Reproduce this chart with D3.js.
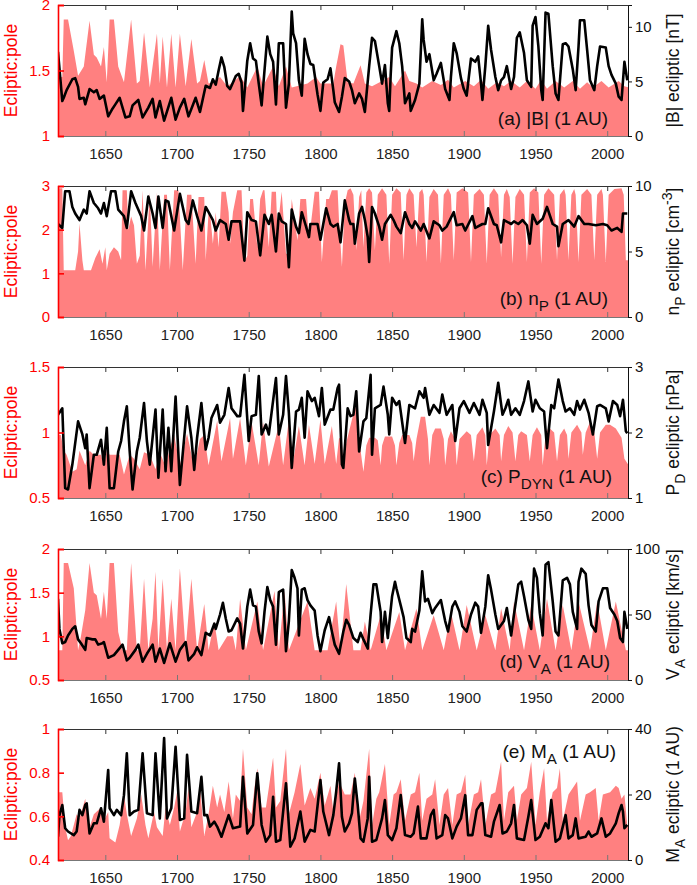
<!DOCTYPE html>
<html lang="en">
<head>
<meta charset="UTF-8">
<title>Ecliptic:pole ratios</title>
<script src="https://d3js.org/d3.v7.min.js"></script>
<style>
  body{margin:0;background:#fff;}
  svg text{font-family:"Liberation Sans",Arial,sans-serif;}
</style>
</head>
<body>
<svg id="chart" width="697" height="885"></svg>
<script>
// year ticks shared by all panels
const yearTicks = [1650, 1700, 1750, 1800, 1850, 1900, 1950, 2000];

// (a) |B| ecliptic [nT]  and  ecliptic:pole ratio
const bEcl = [[1617,7.7],[1620,3.2],[1621,3.5],[1623,4.2],[1627,5.2],[1629,5.3],[1631,4.5],[1632,3.4],[1635,3.5],[1636,2.9],[1639,4.3],[1642,4.0],[1644,4.2],[1646,3.4],[1649,3.7],[1652,1.8],[1655,2.5],[1657,2.9],[1660,3.5],[1664,1.7],[1667,1.8],[1669,2.8],[1673,3.3],[1676,1.7],[1680,2.6],[1683,3.4],[1685,1.7],[1688,3.2],[1691,1.4],[1696,3.5],[1699,1.5],[1702,2.6],[1705,3.4],[1708,1.8],[1713,3.5],[1716,2.2],[1720,4.6],[1723,4.4],[1725,5.2],[1727,4.7],[1729,6.0],[1731,7.2],[1733,6.3],[1735,4.6],[1737,4.3],[1741,5.5],[1743,5.7],[1745,4.9],[1746,2.3],[1749,6.9],[1751,8.5],[1753,7.1],[1755,6.9],[1757,4.8],[1759,2.8],[1761,6.0],[1763,9.1],[1765,7.5],[1767,6.8],[1769,2.9],[1771,8.5],[1774,8.5],[1776,2.6],[1778,4.8],[1780,11.4],[1781,9.4],[1783,8.5],[1785,5.1],[1787,3.7],[1789,8.9],[1791,7.5],[1793,6.6],[1795,6.5],[1798,3.8],[1800,2.3],[1802,4.9],[1805,5.2],[1807,6.2],[1809,4.2],[1810,3.1],[1813,2.2],[1815,3.6],[1817,5.3],[1820,5.0],[1822,4.2],[1824,3.0],[1827,3.9],[1829,3.4],[1831,2.2],[1834,6.4],[1836,9.0],[1838,8.7],[1841,6.4],[1843,4.8],[1845,6.5],[1847,3.0],[1848,2.3],[1849,5.6],[1850,8.1],[1853,9.6],[1855,8.5],[1857,6.4],[1859,3.0],[1862,3.9],[1863,2.3],[1866,3.3],[1869,4.8],[1871,10.7],[1872,8.8],[1874,6.8],[1876,7.5],[1879,5.1],[1881,5.7],[1884,6.7],[1887,4.3],[1890,3.3],[1891,5.4],[1893,8.5],[1895,7.6],[1898,5.3],[1900,4.3],[1902,3.7],[1905,7.1],[1908,6.8],[1910,7.3],[1912,4.8],[1913,3.3],[1915,6.4],[1917,10.1],[1919,7.9],[1922,5.4],[1924,4.2],[1926,5.1],[1928,5.4],[1930,6.4],[1933,4.3],[1935,5.4],[1937,9.0],[1939,9.5],[1942,7.6],[1944,5.1],[1947,4.5],[1948,10.1],[1950,10.9],[1952,8.2],[1954,4.2],[1955,3.3],[1957,11.3],[1959,11.2],[1962,6.4],[1964,3.9],[1966,3.3],[1969,8.4],[1971,8.5],[1973,8.2],[1976,6.1],[1978,4.2],[1980,8.2],[1981,10.6],[1984,10.6],[1986,7.9],[1988,5.1],[1991,4.2],[1993,6.4],[1995,8.2],[1999,8.1],[2001,6.4],[2003,5.6],[2006,4.8],[2008,3.6],[2010,3.3],[2012,6.8],[2014,5.1]];
const bRatio = [[1617,1.45],[1620,1.45],[1621,1.89],[1624,1.89],[1628,1.65],[1631,1.46],[1635,1.53],[1639,1.88],[1642,1.62],[1644,1.60],[1647,1.53],[1649,1.68],[1651,1.41],[1653,1.89],[1656,1.89],[1659,1.53],[1663,1.41],[1668,1.89],[1672,1.40],[1674,1.42],[1677,1.79],[1681,1.37],[1686,1.78],[1688,1.40],[1690,1.76],[1693,1.37],[1696,1.78],[1699,1.37],[1702,1.78],[1706,1.38],[1710,1.74],[1714,1.40],[1716,1.42],[1719,1.58],[1722,1.40],[1726,1.42],[1730,1.45],[1735,1.38],[1740,1.42],[1744,1.46],[1749,1.37],[1756,1.53],[1760,1.38],[1767,1.53],[1771,1.38],[1776,1.53],[1780,1.37],[1791,1.40],[1797,1.45],[1800,1.40],[1809,1.40],[1811,1.53],[1814,1.70],[1816,1.69],[1819,1.41],[1823,1.40],[1828,1.54],[1831,1.40],[1836,1.38],[1843,1.42],[1848,1.45],[1852,1.38],[1859,1.50],[1862,1.42],[1867,1.40],[1871,1.37],[1878,1.42],[1884,1.39],[1889,1.43],[1893,1.37],[1901,1.42],[1907,1.38],[1912,1.43],[1917,1.36],[1923,1.41],[1928,1.38],[1933,1.42],[1939,1.37],[1944,1.42],[1950,1.36],[1954,1.43],[1958,1.36],[1964,1.42],[1970,1.37],[1976,1.42],[1981,1.36],[1986,1.41],[1990,1.37],[1996,1.42],[2001,1.37],[2008,1.42],[2012,1.38],[2015,1.37]];

// (b) n_P ecliptic [cm^-3]
const nEcl = [[1617,7.1],[1620,6.8],[1622,9.6],[1625,9.6],[1627,8.4],[1629,7.9],[1632,7.4],[1635,8.2],[1637,7.9],[1639,9.6],[1642,8.7],[1645,8.3],[1647,7.9],[1649,8.7],[1651,7.7],[1654,9.6],[1657,9.6],[1659,8.2],[1663,7.7],[1665,6.8],[1668,9.6],[1671,8.7],[1675,7.7],[1677,6.6],[1680,9.2],[1683,7.9],[1685,6.8],[1687,9.2],[1690,6.8],[1692,8.9],[1694,8.8],[1698,6.6],[1702,9.4],[1706,7.4],[1708,7.1],[1711,8.9],[1714,7.7],[1717,6.6],[1720,8.4],[1722,8.0],[1725,7.4],[1727,6.6],[1730,7.4],[1734,7.1],[1736,5.9],[1738,7.3],[1744,7.3],[1747,4.3],[1749,8.0],[1752,7.4],[1755,7.3],[1758,4.7],[1761,7.8],[1764,7.1],[1766,7.8],[1769,5.0],[1771,7.9],[1773,7.3],[1776,7.1],[1778,3.8],[1780,8.2],[1783,6.9],[1785,6.4],[1787,8.0],[1790,6.9],[1792,6.1],[1793,7.1],[1798,7.1],[1800,5.9],[1804,8.3],[1807,7.1],[1809,6.9],[1812,7.1],[1814,5.7],[1817,8.9],[1820,7.4],[1821,7.1],[1823,7.1],[1824,5.6],[1827,7.9],[1829,8.4],[1831,7.4],[1833,6.1],[1834,4.2],[1836,8.4],[1838,7.9],[1841,6.9],[1843,5.9],[1845,7.1],[1849,7.8],[1851,7.4],[1853,6.9],[1856,6.4],[1859,8.0],[1862,7.1],[1864,6.8],[1866,7.3],[1870,6.6],[1872,7.1],[1876,6.0],[1879,7.3],[1883,7.0],[1885,6.6],[1888,6.9],[1893,8.0],[1895,7.0],[1899,7.1],[1901,6.6],[1906,7.7],[1908,6.8],[1913,7.1],[1915,7.1],[1917,8.3],[1921,7.1],[1923,7.0],[1926,5.7],[1928,7.4],[1933,7.1],[1935,7.3],[1938,7.1],[1941,7.4],[1944,7.0],[1946,5.6],[1948,7.8],[1951,7.1],[1955,7.5],[1958,8.4],[1962,7.1],[1965,6.9],[1966,5.4],[1969,7.1],[1973,7.4],[1977,6.9],[1980,7.7],[1984,7.1],[1987,7.1],[1992,7.0],[1997,7.1],[2000,7.0],[2003,6.6],[2007,6.8],[2010,6.5],[2011,7.9],[2014,7.9]];
const nRatio = [[1617,2.95],[1620,2.95],[1621,1.07],[1629,1.07],[1631,1.5],[1632,2.14],[1634,1.3],[1635,1.07],[1640,1.07],[1643,1.35],[1646,1.55],[1648,1.22],[1650,1.6],[1651,1.07],[1653,1.45],[1656,1.6],[1659,1.5],[1661,1.3],[1662,2.9],[1665,2.9],[1666,2.0],[1668,2.3],[1670,2.1],[1672,1.22],[1674,1.4],[1676,2.9],[1678,1.07],[1681,2.85],[1683,1.15],[1686,2.85],[1688,1.07],[1691,2.8],[1693,2.8],[1695,1.07],[1698,2.9],[1701,2.9],[1704,1.07],[1707,2.8],[1710,2.8],[1713,1.22],[1715,2.75],[1719,2.75],[1720,1.3],[1722,2.4],[1723,2.4],[1725,1.68],[1727,2.4],[1729,1.6],[1731,2.87],[1734,2.87],[1736,2.4],[1737,1.68],[1739,2.4],[1742,2.9],[1745,2.9],[1747,1.26],[1749,1.4],[1751,2.7],[1753,2.7],[1756,1.6],[1758,2.7],[1760,2.9],[1761,2.9],[1764,1.6],[1766,2.87],[1769,2.87],[1770,2.0],[1773,2.87],[1776,1.45],[1778,1.45],[1780,2.7],[1784,1.75],[1786,2.7],[1790,2.7],[1792,1.75],[1796,2.87],[1799,2.87],[1801,1.26],[1804,2.7],[1806,2.7],[1808,2.9],[1812,2.9],[1813,2.2],[1815,1.15],[1817,2.6],[1819,2.9],[1821,2.95],[1823,2.8],[1825,1.53],[1827,2.75],[1828.5,2.9],[1830,1.6],[1832,2.85],[1834,2.95],[1836,2.85],[1838,1.53],[1840,2.8],[1843,2.95],[1846,2.8],[1848,1.22],[1850,2.8],[1853,2.95],[1856,2.85],[1858,1.3],[1860,2.8],[1862,2.95],[1865,2.8],[1867,1.6],[1869,2.85],[1871,2.93],[1872,2.8],[1874,1.26],[1876,2.75],[1879,2.93],[1882,2.8],[1884,1.22],[1886,2.8],[1889,2.95],[1891,2.8],[1893,1.3],[1895,2.85],[1899,2.95],[1903,2.85],[1905,1.26],[1907,2.8],[1911,2.93],[1914,2.8],[1916,1.22],[1918,2.8],[1921,2.95],[1924,2.8],[1926,1.37],[1928,2.8],[1930,2.93],[1932,2.75],[1934,1.22],[1936,2.75],[1939,2.93],[1942,2.8],[1944,1.26],[1946,2.85],[1949,2.95],[1952,2.85],[1954,1.22],[1956,2.8],[1959,2.95],[1963,2.8],[1965,1.3],[1967,2.8],[1970,2.93],[1971,2.8],[1973,1.3],[1975,2.8],[1977,2.93],[1978,2.8],[1980,1.26],[1982,2.8],[1986,2.93],[1989,2.8],[1991,1.3],[1993,2.8],[1996,2.93],[1997,2.8],[1999,1.26],[2001,2.8],[2005,2.93],[2010,2.95],[2011.5,2.8],[2013,1.3],[2015,1.3]];

// (c) P_D ecliptic [nPa]
const pEcl = [[1617,2.27],[1620,2.37],[1622,1.15],[1624,1.13],[1627,1.51],[1631,2.17],[1634,1.97],[1636,1.76],[1637,1.97],[1639,1.15],[1642,1.66],[1644,1.66],[1647,1.89],[1649,1.51],[1651,2.07],[1653,1.15],[1656,1.15],[1659,1.71],[1661,1.87],[1663,2.17],[1665,2.40],[1667,1.71],[1669,1.13],[1672,1.71],[1674,1.92],[1677,2.45],[1679,1.87],[1681,1.51],[1685,2.35],[1687,1.31],[1690,2.35],[1692,1.41],[1694,2.07],[1696,1.41],[1699,2.55],[1702,1.20],[1705,1.92],[1707,2.40],[1710,1.92],[1712,1.43],[1714,1.92],[1717,2.45],[1720,1.74],[1722,1.92],[1724,2.22],[1728,2.42],[1730,2.15],[1733,2.27],[1736,2.68],[1738,2.37],[1742,2.25],[1744,2.25],[1747,2.88],[1750,1.87],[1752,2.25],[1755,2.27],[1757,2.86],[1759,1.97],[1762,2.12],[1764,1.97],[1769,2.83],[1771,1.97],[1774,2.27],[1776,2.86],[1778,2.30],[1780,1.46],[1783,2.32],[1785,2.35],[1787,2.53],[1789,1.92],[1791,2.63],[1794,2.48],[1796,2.53],[1799,2.25],[1801,2.68],[1803,2.12],[1807,2.35],[1809,2.35],[1812,2.68],[1813,2.73],[1815,1.51],[1816,1.46],[1819,2.37],[1821,2.25],[1823,2.27],[1825,2.63],[1827,1.71],[1830,2.17],[1832,2.22],[1835,2.88],[1836,1.66],[1838,2.37],[1842,2.42],[1844,2.70],[1847,2.27],[1848,1.97],[1850,2.53],[1853,2.42],[1855,2.48],[1859,1.84],[1862,2.42],[1866,2.37],[1869,2.63],[1872,2.53],[1873,2.68],[1876,2.27],[1879,2.42],[1883,2.30],[1885,2.58],[1888,2.27],[1892,2.42],[1894,1.87],[1897,2.37],[1900,2.48],[1904,2.30],[1907,2.45],[1911,2.27],[1913,2.50],[1916,2.30],[1917,1.81],[1921,2.32],[1924,2.76],[1927,2.27],[1929,2.37],[1931,2.50],[1933,2.27],[1936,2.37],[1939,2.27],[1942,2.48],[1945,2.78],[1948,2.32],[1950,2.50],[1953,2.37],[1956,2.32],[1958,1.76],[1961,2.42],[1963,2.37],[1966,2.81],[1969,2.48],[1971,2.32],[1974,2.37],[1977,2.27],[1979,2.48],[1981,2.35],[1984,2.50],[1987,2.30],[1990,1.97],[1993,2.40],[1995,2.42],[1999,2.37],[2001,2.17],[2004,2.48],[2007,2.42],[2009,2.25],[2011,2.50],[2013,2.02],[2014,1.99]];
const pRatio = [[1617,0.98],[1619,0.98],[1621,0.86],[1623,0.83],[1627,0.70],[1630,0.72],[1632,0.86],[1636,0.75],[1639,0.86],[1642,0.83],[1647,0.83],[1649,0.75],[1651,0.86],[1653,0.83],[1660,0.83],[1663,0.68],[1667,0.83],[1670,0.80],[1674,0.72],[1677,0.85],[1681,0.83],[1685,0.72],[1688,0.85],[1692,0.74],[1695,0.88],[1698,0.98],[1702,0.75],[1707,0.99],[1712,0.73],[1716,0.95],[1719,0.98],[1722,0.75],[1728,1.09],[1731,0.78],[1737,1.11],[1739,0.80],[1744,1.11],[1748,0.75],[1752,1.08],[1757,0.75],[1760,1.08],[1764,0.74],[1771,1.06],[1774,0.75],[1778,1.10],[1781,0.78],[1785,1.05],[1789,0.75],[1792,1.06],[1796,0.76],[1800,1.10],[1803,0.76],[1808,1.05],[1811,0.76],[1813,0.96],[1815,0.94],[1816,0.75],[1818,0.92],[1822,1.10],[1825,1.21],[1827,0.95],[1829,0.78],[1830,0.70],[1832,0.90],[1834,0.96],[1838,0.96],[1840,0.94],[1842,0.75],[1843,0.90],[1845,0.97],[1850,0.97],[1852,0.90],[1853,0.75],[1855,0.92],[1857,0.98],[1862,0.98],[1864,0.92],[1865,0.78],[1867,0.95],[1870,1.12],[1873,1.12],[1875,0.95],[1876,0.75],[1878,0.98],[1880,1.03],[1884,1.03],[1886,0.95],[1887,0.75],[1889,0.95],[1891,1.01],[1894,0.95],[1895,0.75],[1897,0.95],[1902,1.01],[1905,0.98],[1907,0.78],[1909,0.98],[1913,1.04],[1915,0.98],[1916,0.75],[1918,0.98],[1922,1.03],[1925,0.98],[1926,0.78],[1928,0.98],[1931,1.05],[1934,1.00],[1936,0.78],[1938,0.98],[1940,1.01],[1944,0.98],[1946,0.78],[1948,0.98],[1951,1.04],[1954,0.98],[1955,0.75],[1957,0.98],[1959,1.04],[1963,1.00],[1965,0.78],[1967,0.98],[1970,1.03],[1972,0.98],[1973,0.80],[1975,1.00],[1979,1.06],[1982,1.00],[1983,0.83],[1985,1.00],[1988,1.08],[1991,1.00],[1993,0.80],[1995,1.00],[1999,1.06],[2002,1.06],[2006,1.03],[2010,0.96],[2012,0.80],[2015,0.75]];

// (d) V_A ecliptic [km/s]
const vEcl = [[1617,62],[1618,39],[1620,28],[1622,29],[1624,34],[1627,39],[1629,41],[1631,31],[1633,28],[1636,23],[1637,32],[1641,31],[1643,31],[1645,27],[1648,28],[1649,29],[1652,17],[1656,19],[1659,23],[1662,27],[1665,15],[1667,17],[1671,23],[1673,27],[1676,14],[1679,20],[1683,27],[1685,14],[1688,24],[1691,13],[1695,28],[1699,14],[1702,23],[1706,29],[1708,15],[1712,20],[1714,25],[1717,19],[1720,36],[1723,34],[1726,43],[1727,39],[1730,50],[1732,59],[1734,47],[1736,37],[1738,38],[1742,47],[1744,43],[1746,24],[1749,56],[1751,69],[1753,57],[1755,56],[1757,37],[1759,28],[1761,52],[1763,71],[1765,61],[1767,56],[1769,27],[1771,67],[1774,69],[1776,22],[1778,45],[1780,84],[1782,78],[1784,70],[1785,34],[1787,69],[1789,70],[1791,61],[1793,57],[1796,53],[1798,34],[1800,22],[1803,38],[1806,48],[1808,37],[1810,27],[1813,20],[1816,37],[1818,46],[1820,42],[1823,32],[1826,29],[1828,36],[1830,31],[1833,24],[1835,50],[1837,73],[1839,73],[1842,52],[1843,29],[1845,52],[1847,32],[1848,43],[1850,64],[1852,75],[1853,70],[1856,57],[1858,48],[1860,32],[1863,29],[1864,39],[1866,37],[1869,53],[1871,83],[1873,60],[1875,62],[1878,51],[1880,55],[1884,61],[1887,45],[1889,37],[1892,56],[1894,60],[1897,52],[1899,41],[1902,37],[1905,50],[1908,59],[1910,56],[1912,36],[1915,56],[1917,80],[1919,69],[1922,50],[1924,39],[1928,45],[1930,55],[1933,34],[1935,50],[1938,73],[1940,75],[1942,64],[1945,46],[1947,39],[1949,85],[1951,78],[1953,51],[1955,34],[1957,88],[1959,90],[1962,60],[1964,37],[1966,34],[1969,76],[1972,78],[1974,73],[1976,52],[1979,39],[1980,75],[1982,85],[1985,81],[1987,57],[1989,42],[1992,37],[1994,60],[1997,70],[2000,70],[2002,55],[2005,50],[2007,45],[2009,32],[2011,29],[2012,52],[2014,39]];
const vRatio = [[1617,0.84],[1620,0.84],[1621,1.84],[1624,1.84],[1628,1.55],[1631,0.84],[1633,1.0],[1636,1.3],[1639,1.84],[1642,1.5],[1644,1.47],[1647,1.2],[1649,1.51],[1651,1.2],[1653,1.84],[1656,1.84],[1659,1.05],[1662,0.84],[1665,0.84],[1668,1.84],[1672,0.84],[1674,0.84],[1677,1.66],[1680,0.84],[1683,1.2],[1685,1.74],[1687,0.84],[1690,1.66],[1693,0.84],[1696,1.43],[1699,0.84],[1702,1.78],[1706,0.84],[1710,1.66],[1714,0.84],[1719,1.37],[1722,0.84],[1726,1.17],[1729,0.84],[1735,1.0],[1739,1.0],[1741,0.84],[1744,1.43],[1748,0.84],[1756,1.4],[1760,0.84],[1768,1.52],[1771,0.84],[1775,1.52],[1778,0.84],[1791,1.4],[1796,0.84],[1805,0.84],[1811,1.4],[1814,0.84],[1818,1.6],[1823,0.84],[1828,0.84],[1831,1.17],[1835,0.84],[1842,1.24],[1846,0.84],[1855,1.28],[1859,0.84],[1867,1.32],[1871,0.84],[1879,1.24],[1886,0.84],[1891,1.28],[1897,0.84],[1902,1.36],[1909,0.84],[1915,1.24],[1922,0.84],[1926,1.32],[1932,0.84],[1935,1.4],[1942,0.84],[1947,1.36],[1953,0.84],[1958,1.43],[1964,0.84],[1969,1.36],[1975,0.84],[1980,1.4],[1988,0.84],[1993,1.4],[1999,0.84],[2006,1.4],[2013,0.84],[2015,0.84]];

// (e) M_A ecliptic
const mEcl = [[1617,7.1],[1618,13.7],[1620,16.8],[1622,9.7],[1624,8.7],[1628,7.6],[1630,8.7],[1632,15.3],[1634,13.7],[1636,16.8],[1637,17.3],[1639,8.1],[1642,11.2],[1644,11.2],[1647,15.8],[1649,11.7],[1652,27.5],[1653,15.8],[1656,13.7],[1658,15.3],[1661,13.7],[1663,19.8],[1665,32.6],[1667,13.7],[1670,14.8],[1673,15.3],[1676,32.6],[1679,14.3],[1683,13.7],[1685,32.6],[1688,12.7],[1691,37.2],[1693,12.7],[1696,15.8],[1699,34.6],[1702,12.2],[1705,12.7],[1707,32.1],[1710,14.8],[1714,14.3],[1717,25.4],[1719,13.7],[1721,13.7],[1723,10.2],[1726,11.7],[1728,10.2],[1731,7.1],[1736,13.7],[1739,9.7],[1744,10.2],[1746,25.4],[1749,8.1],[1753,10.7],[1756,26.5],[1759,10.7],[1762,5.6],[1765,7.6],[1767,19.3],[1769,5.6],[1772,6.1],[1776,23.4],[1779,4.1],[1782,6.6],[1786,14.8],[1789,5.6],[1793,9.2],[1796,8.7],[1800,24.4],[1802,14.8],[1806,7.6],[1809,13.7],[1811,20.9],[1813,29.5],[1815,13.2],[1817,8.7],[1820,11.2],[1822,14.3],[1824,24.9],[1826,16.8],[1828,6.6],[1830,5.6],[1833,12.7],[1834,25.4],[1836,5.6],[1839,6.1],[1843,12.7],[1845,18.3],[1847,7.6],[1850,6.1],[1853,9.7],[1856,19.8],[1859,7.6],[1863,7.1],[1865,8.1],[1868,16.3],[1870,6.6],[1874,6.6],[1877,13.7],[1879,15.3],[1881,6.6],[1885,7.6],[1887,13.7],[1889,12.7],[1892,6.6],[1895,10.2],[1898,12.7],[1901,19.8],[1903,7.6],[1906,7.6],[1909,15.3],[1912,17.3],[1913,17.3],[1915,7.6],[1919,7.1],[1921,11.7],[1925,16.8],[1927,8.1],[1930,8.7],[1933,11.2],[1935,16.8],[1937,6.6],[1942,6.1],[1945,13.2],[1947,18.3],[1950,6.1],[1953,7.1],[1957,11.2],[1959,9.7],[1961,18.3],[1964,5.6],[1967,6.6],[1971,13.7],[1973,6.6],[1976,7.6],[1978,12.7],[1980,6.6],[1985,7.1],[1987,8.7],[1989,7.1],[1993,8.1],[1996,12.7],[1999,7.1],[2002,8.1],[2006,11.2],[2008,14.3],[2010,16.8],[2011,14.8],[2012,9.7],[2014,10.7]];
const mRatio = [[1617,0.71],[1620,0.71],[1622,0.55],[1624,0.49],[1626,0.51],[1630,0.61],[1632,0.59],[1636,0.68],[1637,0.62],[1639,0.55],[1642,0.61],[1647,0.64],[1649,0.58],[1652,0.62],[1653,0.50],[1657,0.48],[1660,0.56],[1663,0.70],[1665,0.61],[1668,0.51],[1672,0.59],[1675,0.70],[1678,0.56],[1680,0.50],[1684,0.62],[1686,0.55],[1690,0.51],[1692,0.64],[1695,0.56],[1698,0.64],[1700,0.71],[1702,0.53],[1706,0.62],[1708,0.73],[1710,0.55],[1714,0.62],[1716,0.73],[1719,0.51],[1722,0.61],[1725,0.74],[1728,0.64],[1730,0.70],[1733,0.62],[1736,0.76],[1739,0.59],[1741,0.70],[1744,0.67],[1746,0.91],[1749,0.64],[1752,0.61],[1754,0.73],[1756,0.82],[1759,0.64],[1762,0.64],[1764,0.73],[1767,0.87],[1769,0.64],[1772,0.67],[1776,0.91],[1778,0.61],[1782,0.71],[1786,0.84],[1789,0.65],[1793,0.73],[1796,0.68],[1800,0.80],[1803,0.65],[1807,0.74],[1809,0.62],[1813,0.76],[1817,0.70],[1821,0.70],[1824,0.80],[1827,0.58],[1830,0.67],[1834,0.91],[1836,0.56],[1839,0.68],[1841,0.71],[1845,0.84],[1848,0.56],[1851,0.70],[1853,0.71],[1856,0.77],[1859,0.58],[1863,0.70],[1866,0.71],[1869,0.80],[1871,0.58],[1874,0.68],[1878,0.70],[1880,0.77],[1883,0.56],[1886,0.70],[1889,0.73],[1892,0.56],[1895,0.70],[1898,0.71],[1901,0.79],[1903,0.56],[1907,0.70],[1910,0.71],[1912,0.77],[1915,0.56],[1919,0.70],[1922,0.71],[1926,0.85],[1928,0.58],[1931,0.71],[1935,0.74],[1937,0.58],[1940,0.70],[1944,0.73],[1947,0.85],[1950,0.56],[1953,0.71],[1956,0.82],[1958,0.58],[1962,0.71],[1965,0.73],[1967,0.82],[1969,0.58],[1973,0.70],[1976,0.73],[1979,0.76],[1981,0.58],[1985,0.70],[1988,0.71],[1992,0.73],[1994,0.58],[1997,0.70],[2002,0.71],[2006,0.74],[2008,0.73],[2010,0.68],[2012,0.70],[2014,0.56],[2015,0.56]];

// axis ranges / tick values per panel
const leftDomains  = [[1,2],[0,3],[0.5,1.5],[0.5,2],[0.4,1]];
const leftTicks    = [[1,1.5,2],[0,1,2,3],[0.5,1,1.5],[0.5,1,1.5,2],[0.4,0.6,0.8,1]];
const rightDomains = [[0,12],[0,10],[1,3],[0,100],[0,40]];
const rightTicks   = [[0,5,10],[0,5,10],[1,2,3],[0,50,100],[0,20,40]];

// text pieces: [text, shift]  shift 1 = subscript, -1 = superscript
const panelLabels = [
  [["(a) |B| (1 AU)",0]],
  [["(b) n",0],["P",1],[" (1 AU)",0]],
  [["(c) P",0],["DYN",1],[" (1 AU)",0]],
  [["(d) V",0],["A",1],[" (1 AU)",0]],
  [["(e) M",0],["A",1],[" (1 AU)",0]]
];
const rightLabels = [
  [["|B| ecliptic [nT]",0]],
  [["n",0],["P",1],[" ecliptic [cm",0],["-3",-1],["]",0]],
  [["P",0],["D",1],[" ecliptic [nPa]",0]],
  [["V",0],["A",1],[" ecliptic [km/s]",0]],
  [["M",0],["A",1],[" ecliptic (1 AU)",0]]
];

const series = [
  {ecl: bEcl, ratio: bRatio},
  {ecl: nEcl, ratio: nRatio},
  {ecl: pEcl, ratio: pRatio},
  {ecl: vEcl, ratio: vRatio},
  {ecl: mEcl, ratio: mRatio}
];

// layout
const tops = [5, 186, 367, 549, 729];
const ph = 131;
const left = 58, right = 628;
const labelPos = [{x:608,dy:120},{x:608,dy:119},{x:612,dy:116},{x:610,dy:119},{x:616,dy:29}];
const RED = "#ff0000", FILL = "#ff8080";

const svg = d3.select("#chart");
const x = d3.scaleLinear().domain([1617, 2014.5]).range([left, right]);

// writes text pieces as tspans, shifting sub/superscripts and restoring the baseline after
function addRich(sel, parts, size) {
  let pending = 0;
  parts.forEach(([t, s]) => {
    const sh = s === 1 ? 0.33 * size : (s === -1 ? -0.42 * size : 0);
    const sp = sel.append("tspan").text(t);
    const dy = sh - pending;
    if (dy !== 0) sp.attr("dy", dy);
    if (s !== 0) sp.style("font-size", (size * 0.8) + "px");
    pending = sh;
  });
}

series.forEach((s, i) => {
  const top = tops[i], bottom = top + ph;
  const yL = d3.scaleLinear().domain(leftDomains[i]).range([bottom, top]);
  const yR = d3.scaleLinear().domain(rightDomains[i]).range([bottom, top]);
  const g = svg.append("g");

  g.append("clipPath").attr("id", "clip" + i)
    .append("rect").attr("x", left).attr("y", top).attr("width", right - left).attr("height", ph);

  const plot = g.append("g").attr("clip-path", "url(#clip" + i + ")");
  plot.append("path")
    .datum(s.ratio)
    .attr("fill", FILL)
    .attr("d", d3.area().x(d => x(d[0])).y0(bottom).y1(d => yL(d[1])));
  plot.append("path")
    .datum(s.ecl)
    .attr("fill", "none")
    .attr("stroke", "#000")
    .attr("stroke-width", 2.6)
    .attr("stroke-linejoin", "round")
    .attr("d", d3.line().x(d => x(d[0])).y(d => yR(d[1])));

  // top & bottom axes (ticks inward)
  const topAx = g.append("g").attr("transform", `translate(0,${top})`)
    .call(d3.axisTop(x).tickValues(yearTicks).tickSize(-5).tickFormat(""));
  topAx.selectAll("path,line").attr("stroke", "#333");
  const botAx = g.append("g").attr("transform", `translate(0,${bottom})`)
    .call(d3.axisBottom(x).tickValues(yearTicks).tickSize(-5).tickPadding(12).tickFormat(d3.format("d")));
  botAx.select(".domain").attr("stroke", "#777");
  botAx.selectAll(".tick line").attr("stroke", "#777");
  botAx.selectAll("text").style("font-size", "15px").attr("fill", "#222");

  // left axis, red
  const lAx = g.append("g").attr("transform", `translate(${left},0)`)
    .call(d3.axisLeft(yL).tickValues(leftTicks[i]).tickSize(-6).tickPadding(8).tickFormat(d3.format("~g")));
  lAx.selectAll("path,line").attr("stroke", RED).attr("stroke-width", 1.6);
  lAx.selectAll("text").attr("fill", RED).style("font-size", "15px");

  // right axis
  const rAx = g.append("g").attr("transform", `translate(${right},0)`)
    .call(d3.axisRight(yR).tickValues(rightTicks[i]).tickSize(4).tickPadding(3).tickFormat(d3.format("~g")));
  rAx.selectAll("path,line").attr("stroke", "#111");
  rAx.selectAll("text").attr("fill", "#111").style("font-size", "15px");

  // axis titles
  g.append("text")
    .attr("transform", `translate(17,${top + ph / 2}) rotate(-90)`)
    .attr("text-anchor", "middle")
    .attr("fill", RED)
    .style("font-size", "17.5px")
    .text("Ecliptic:pole");
  const rt = g.append("text")
    .attr("transform", `translate(679,${top + ph / 2}) rotate(-90)`)
    .attr("text-anchor", "middle")
    .attr("fill", "#111")
    .style("font-size", "17.5px");
  addRich(rt, rightLabels[i], 17.5);

  // panel label
  const pl = g.append("text")
    .attr("x", labelPos[i].x).attr("y", top + labelPos[i].dy)
    .attr("text-anchor", "end")
    .attr("fill", "#111")
    .style("font-size", "19px");
  addRich(pl, panelLabels[i], 19);
});
</script>
</body>
</html>
